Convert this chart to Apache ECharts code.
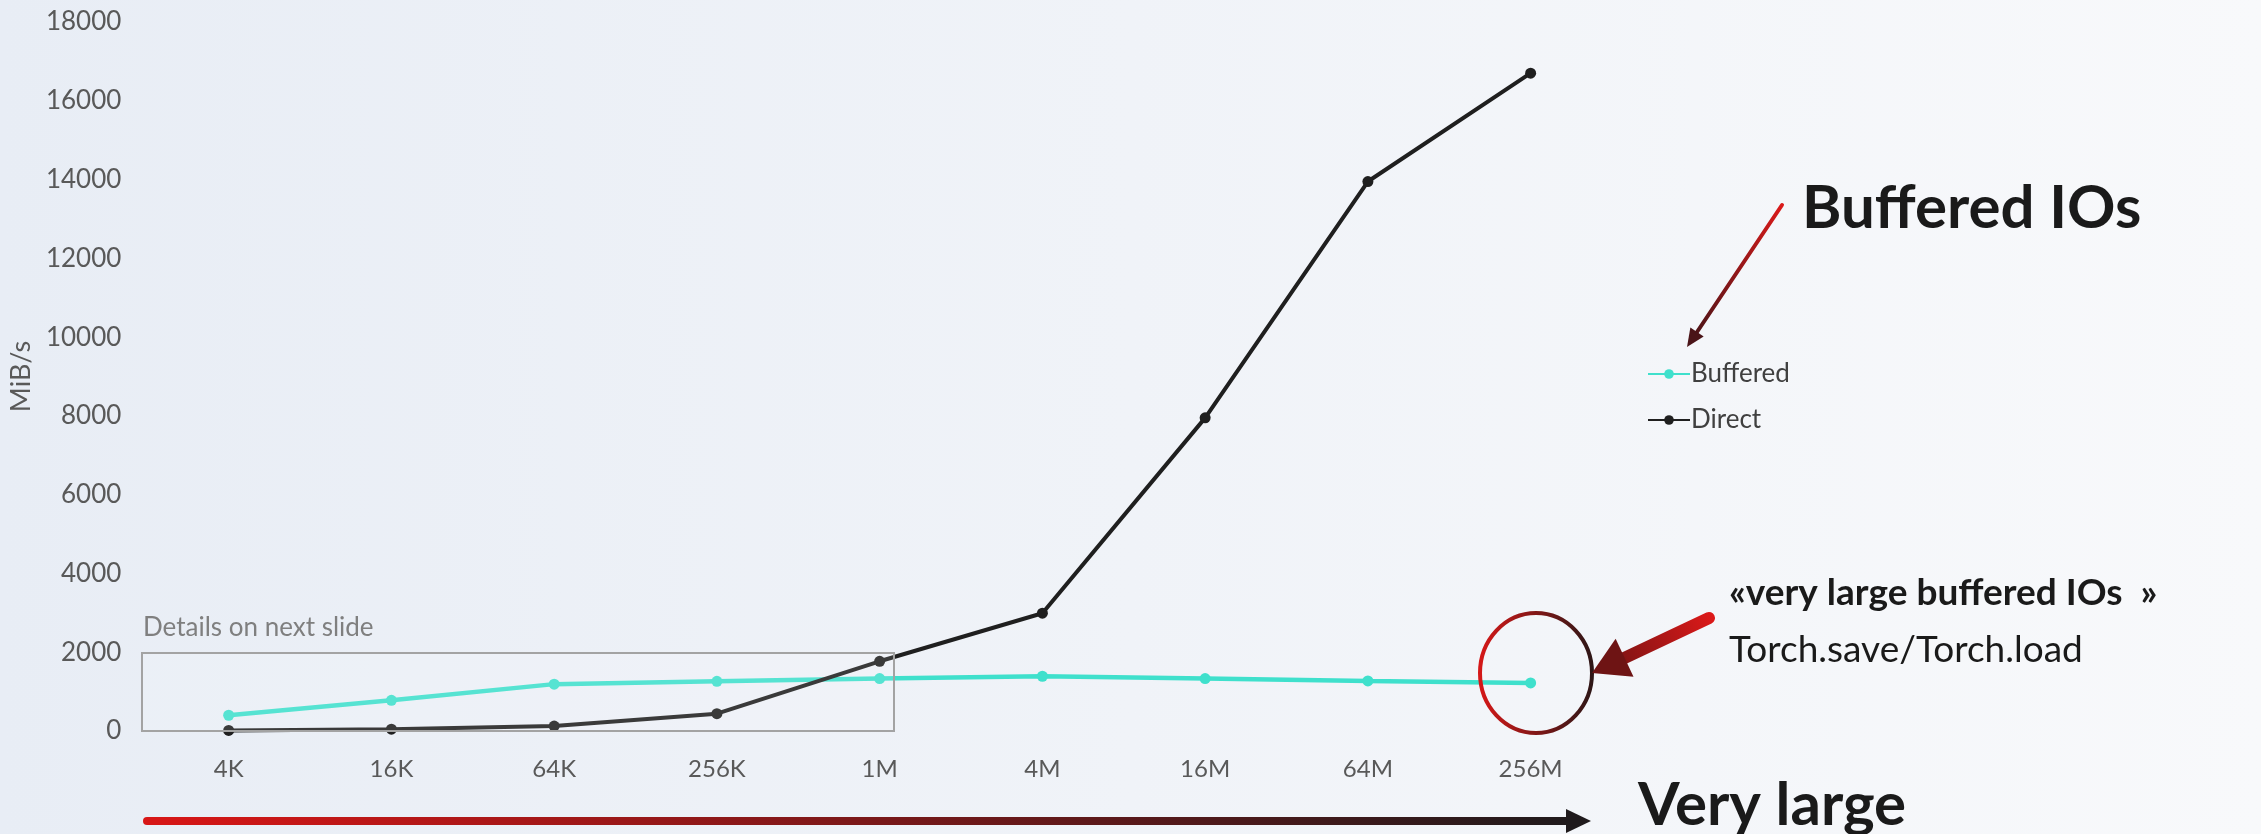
<!DOCTYPE html>
<html>
<head>
<meta charset="utf-8">
<script src="https://cdn.jsdelivr.net/npm/echarts@6/dist/echarts.min.js"></script>
<style>
  html, body { margin: 0; padding: 0; }
  #chart { width: 2261px; height: 834px; }
</style>
</head>
<body>
<div id="chart"></div>
<script>
// block sizes on the x axis
const sizes = ['4K', '16K', '64K', '256K', '1M', '4M', '16M', '64M', '256M'];
// throughput, MiB/s
const buffered = [400, 780, 1190, 1260, 1330, 1390, 1330, 1270, 1220];
const direct = [15, 45, 125, 440, 1770, 2990, 7950, 13950, 16700];
const yTicks = { min: 0, max: 18000, interval: 2000 };

const FONT = 'Lato';
const TEAL = '#3fe0cc';
const DARK = '#1f1f1f';

const chart = echarts.init(document.getElementById('chart'));

// arrow head triangle pointing from (x1,y1) towards tip (x2,y2)
function head(x1, y1, x2, y2, len, half) {
  const dx = x2 - x1, dy = y2 - y1;
  const d = Math.sqrt(dx * dx + dy * dy);
  const ux = dx / d, uy = dy / d;
  const bx = x2 - ux * len, by = y2 - uy * len;
  return [[x2, y2], [bx - uy * half, by + ux * half], [bx + uy * half, by - ux * half]];
}

function grad(x0, y0, x1, y1, c0, c1) {
  return new echarts.graphic.LinearGradient(x0, y0, x1, y1, [
    { offset: 0, color: c0 },
    { offset: 1, color: c1 }
  ]);
}

const option = {
  backgroundColor: grad(0, 0, 1, 0, '#e8edf5', '#f8f9fb'),
  animation: false,
  grid: { left: 143, top: 22, width: 1469, height: 709 },
  legend: {
    orient: 'vertical',
    left: 1642,
    top: 356,
    itemWidth: 42,
    itemHeight: 12,
    itemGap: 20,
    textStyle: { fontFamily: FONT, fontSize: 26, color: '#404040', padding: [0, 0, 0, -4] },
    data: ['Buffered', 'Direct']
  },
  xAxis: {
    type: 'category',
    data: sizes,
    axisLine: { show: false },
    axisTick: { show: false },
    axisLabel: { fontFamily: FONT, fontSize: 24, color: '#595959', margin: 26 }
  },
  yAxis: {
    type: 'value',
    min: yTicks.min,
    max: yTicks.max,
    interval: yTicks.interval,
    name: 'MiB/s',
    nameLocation: 'middle',
    nameGap: 112,
    nameTextStyle: { fontFamily: FONT, fontSize: 27, color: '#595959' },
    splitLine: { show: false },
    axisLabel: {
      fontFamily: FONT, fontSize: 26, color: '#595959', margin: 26,
      formatter: v => String(v)
    }
  },
  series: [
    {
      name: 'Buffered',
      type: 'line',
      data: buffered,
      symbol: 'circle',
      symbolSize: 11,
      lineStyle: { width: 4.5, color: TEAL },
      itemStyle: { color: TEAL }
    },
    {
      name: 'Direct',
      type: 'line',
      data: direct,
      symbol: 'circle',
      symbolSize: 11,
      lineStyle: { width: 4, color: DARK },
      itemStyle: { color: DARK }
    }
  ],
  graphic: [
    // detail box
    {
      type: 'rect', z: 10,
      shape: { x: 142, y: 653, width: 752, height: 78 },
      style: { fill: 'rgba(255,255,255,0.12)', stroke: '#a3a3a3', lineWidth: 2 }
    },
    {
      type: 'text', z: 10, left: 143, top: 615,
      style: { text: 'Details on next slide', font: '26px Lato', fill: '#7f7f7f' }
    },
    // circle round the 256M buffered point
    {
      type: 'ellipse', z: 10,
      shape: { cx: 1536, cy: 673, rx: 56, ry: 60 },
      style: { fill: 'none', stroke: grad(0, 0, 1, 0, '#d81818', '#2a1616'), lineWidth: 4 }
    },
    // thick arrow to the circle
    {
      type: 'line', z: 10,
      shape: { x1: 1709, y1: 618, x2: 1618, y2: 661 },
      style: { stroke: grad(1, 0, 0, 1, '#e01919', '#7a1414'), lineWidth: 12, lineCap: 'round' }
    },
    {
      type: 'polygon', z: 10,
      shape: { points: head(1709, 618, 1592, 673, 36, 21) },
      style: { fill: '#6e1414' }
    },
    {
      type: 'text', z: 10, left: 1729, top: 575,
      style: { text: '«very large buffered IOs  »', font: 'bold 37px Lato', fill: '#1a1a1a' }
    },
    {
      type: 'text', z: 10, left: 1729, top: 632,
      style: { text: 'Torch.save/Torch.load', font: '37px Lato', fill: '#1a1a1a' }
    },
    // arrow to the legend
    {
      type: 'line', z: 10,
      shape: { x1: 1782, y1: 205, x2: 1695, y2: 335 },
      style: { stroke: grad(1, 0, 0, 1, '#dd1a1a', '#4a1418'), lineWidth: 4, lineCap: 'round' }
    },
    {
      type: 'polygon', z: 10,
      shape: { points: head(1782, 205, 1687, 347, 18, 8) },
      style: { fill: '#4a1418' }
    },
    {
      type: 'text', z: 10, left: 1802, top: 179,
      style: { text: 'Buffered IOs', font: 'bold 60px Lato', fill: '#1a1a1a' }
    },
    // bottom arrow
    {
      type: 'line', z: 10,
      shape: { x1: 147, y1: 821, x2: 1570, y2: 821 },
      style: { stroke: grad(0, 0, 1, 0, '#d81616', '#1f1a1c'), lineWidth: 8, lineCap: 'round' }
    },
    {
      type: 'polygon', z: 10,
      shape: { points: [[1591, 821], [1566, 809], [1566, 833]] },
      style: { fill: '#1f1a1c' }
    },
    {
      type: 'text', z: 10, left: 1638, top: 776,
      style: { text: 'Very large', font: 'bold 60px Lato', fill: '#1a1a1a' }
    }
  ]
};

chart.setOption(option);
</script>
</body>
</html>
